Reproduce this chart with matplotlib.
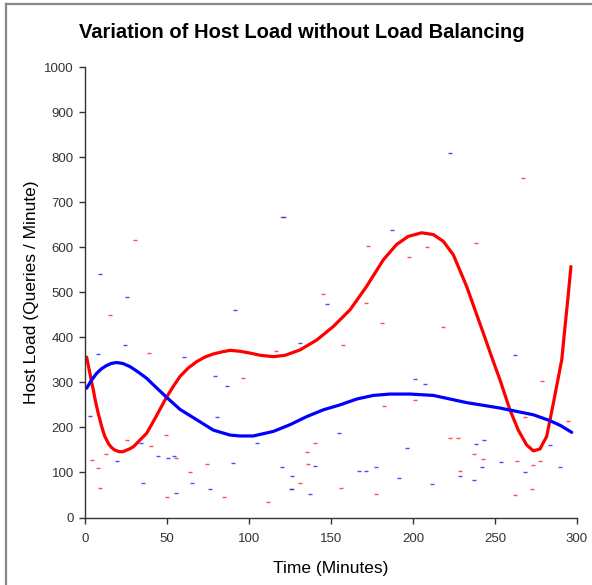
"""
Host load over time without load balancing: raw samples plus trend curves.
"""

import matplotlib
matplotlib.use("Agg")
import matplotlib.pyplot as plt
from matplotlib.lines import Line2D

plt.rcParams['font.family'] = ['Liberation Sans', 'DejaVu Sans']

# raw samples (minutes, queries/minute)
red_t = [30.5, 120.3, 172.4, 197.6, 145.1, 171.3, 181.3, 116.5, 157.5, 96.2,
         267.3, 208.3, 238.4, 218.5, 15.2, 39.2, 49.4, 25.4, 40.2, 12.8,
         55.5, 4.1, 74.2, 8.1, 64.0, 9.1, 50.2, 84.8, 182.3, 140.0,
         135.2, 136.2, 131.3, 126.2, 156.3, 177.3, 111.4, 201.2, 278.5, 268.5,
         294.7, 222.4, 227.4, 237.4, 242.5, 263.4, 277.4, 273.4, 228.7, 272.6,
         262.1]
red_v = [616, 666, 603, 579, 497, 477, 431, 370, 382, 309,
         754, 601, 609, 423, 450, 366, 183, 172, 159, 141,
         131, 128, 118, 109, 100, 65, 45, 45, 248, 165,
         146, 118, 77, 63, 66, 53, 34, 260, 303, 224,
         215, 177, 177, 140, 130, 126, 126, 116, 104, 63,
         51]

blue_t = [9.1, 121.2, 187.4, 131.3, 147.4, 222.6, 262.4, 201.2, 25.4, 91.5,
          24.4, 8.1, 60.4, 79.3, 86.4, 3.0, 80.3, 34.1, 44.3, 50.4,
          54.3, 19.3, 90.0, 35.6, 65.2, 76.2, 55.5, 155.1, 105.1, 196.1,
          120.3, 140.0, 167.3, 171.1, 177.3, 126.4, 191.2, 125.4, 137.4, 207.3,
          243.5, 238.6, 283.5, 253.7, 289.6, 242.3, 268.5, 228.7, 237.4, 211.4]
blue_v = [540, 668, 638, 388, 475, 808, 361, 308, 489, 461,
          382, 363, 357, 313, 292, 226, 224, 165, 137, 132,
          137, 126, 122, 76, 76, 63, 55, 187, 165, 154,
          111, 114, 104, 104, 111, 92, 88, 63, 52, 297,
          171, 163, 160, 124, 113, 113, 100, 92, 83, 75]

# trend curves
red_fit_t = [1, 2, 3, 4, 5.1, 6, 7, 8, 9.1, 10, 11, 12, 13.2, 14.5, 16, 18,
             20.9, 23, 25, 27, 29.5, 33, 37.6, 43,
             49.4, 54, 57.9, 63, 68.1, 73, 78.2, 84, 88.4, 94.5, 100.6, 107,
             114.8, 122, 131.1, 141.3, 151.4, 161.6, 171.7, 181.9, 190, 197.1,
             205.3, 212.4, 218.5, 224.6, 232.7, 242.9, 248.6, 253, 259.1, 264.2,
             269.3, 273.4, 277.4, 281.5, 285.6, 290.7, 292.7, 294.5, 296.3]
red_fit_v = [356, 338, 320, 301, 283, 265, 248, 232, 217, 204, 192, 181, 172, 163, 156, 150,
             146, 146, 149, 152, 157, 170, 187, 222,
             265, 292, 313, 332, 346, 356, 363, 368, 371, 369, 365, 360,
             357, 360, 372, 394, 424, 461, 513, 572, 606, 624,
             632, 628, 613, 583, 513, 409, 350, 306, 239, 194,
             161, 148, 152, 180, 254, 350, 424, 488, 557]

blue_fit_t = [1, 4, 7.1, 10, 13, 16, 19.3, 23, 27.4, 32, 37.6, 43, 49.4, 57.9,
              68.1, 78.2, 88.4, 94.5,
              102.6, 114.8, 125, 135.2, 145.3, 155.5, 165.7, 175.8, 186, 198.2,
              212.4, 232.7, 253, 273.4, 283.5, 290, 296.8]
blue_fit_v = [287, 305, 320, 330, 337, 342, 344, 342, 335, 324, 309, 290, 268, 240,
              217, 194, 183, 181,
              181, 191, 206, 224, 239, 250, 263, 271, 274, 274,
              271, 255, 243, 228, 215, 204, 189]

RED = '#FF0000'
BLUE = '#0000FF'
AX_COL = '#333333'

fig = plt.figure(figsize=(5.92, 5.85), dpi=100)
ax = fig.add_axes([85 / 592, 67.5 / 585, 492 / 592, 450.5 / 585])

ax.plot(red_t, red_v, linestyle='none', marker='_', markersize=3,
        markeredgewidth=1, color=RED, alpha=0.7)
ax.plot(blue_t, blue_v, linestyle='none', marker='_', markersize=3,
        markeredgewidth=1, color=BLUE, alpha=0.7)

ax.plot(red_fit_t, red_fit_v, color=RED, linewidth=2.3,
        solid_joinstyle='round', solid_capstyle='round')
ax.plot(blue_fit_t, blue_fit_v, color=BLUE, linewidth=2.3,
        solid_joinstyle='round', solid_capstyle='round')

ax.set_xlim(0, 300)
ax.set_ylim(0, 1000)
ax.set_xticks(range(0, 301, 50))
ax.set_yticks(range(0, 1001, 100))
for side in ('top', 'right'):
    ax.spines[side].set_visible(False)
for side in ('left', 'bottom'):
    ax.spines[side].set_color(AX_COL)
    ax.spines[side].set_linewidth(1)
ax.tick_params(direction='out', length=4, width=1, color=AX_COL,
               labelsize=9.5, labelcolor='#333333')
ax.tick_params(axis='x', pad=7)
ax.tick_params(axis='y', pad=4)

ax.set_xlabel("Time (Minutes)", fontsize=12.5, labelpad=12)
ax.set_ylabel("Host Load (Queries / Minute)", fontsize=12.5, labelpad=4)
fig.text(302 / 592, 1 - 33 / 585,
         "Variation of Host Load without Load Balancing",
         ha='center', va='center', fontsize=14.5, fontweight='bold')

# grey frame on top and left like the exported chart
fig.add_artist(Line2D([6 / 592, 6 / 592], [0, 1 - 4 / 585],
                      transform=fig.transFigure, color='#888888', linewidth=1.6))
fig.add_artist(Line2D([6 / 592, 1], [1 - 4 / 585, 1 - 4 / 585],
                      transform=fig.transFigure, color='#888888', linewidth=1.6))

fig.savefig("out.png", dpi=100)
plt.close(fig)
